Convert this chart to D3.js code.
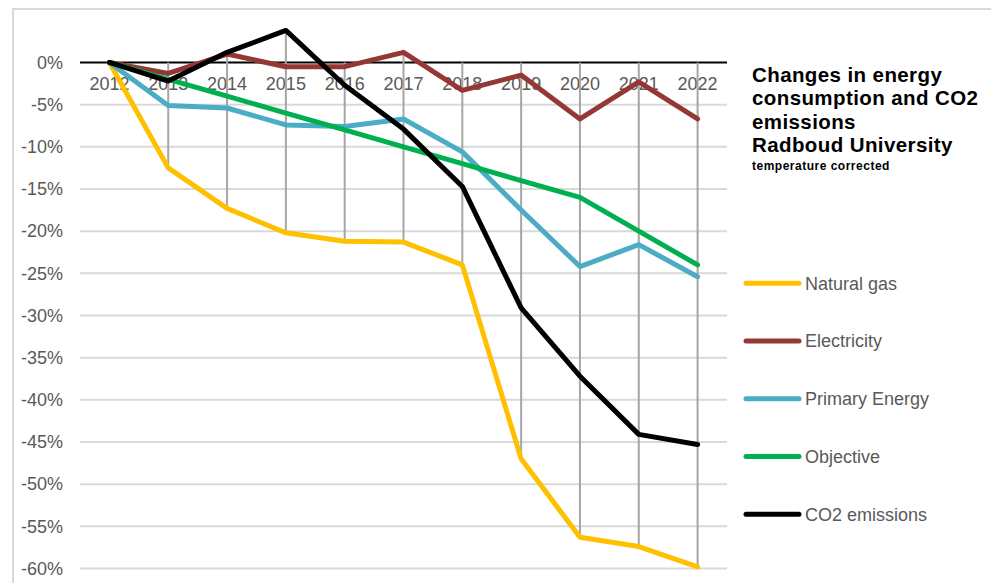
<!DOCTYPE html>
<html>
<head>
<meta charset="utf-8">
<script src="https://cdn.jsdelivr.net/npm/d3@7"></script>
<style>
  html, body { margin: 0; padding: 0; background: #fff; }
  svg { display: block; font-family: "Liberation Sans", Arial, sans-serif; }
</style>
</head>
<body>
<svg id="chart" width="991" height="583"></svg>
<script>
// Years on the category axis
const years = ["2012", "2013", "2014", "2015", "2016", "2017", "2018", "2019", "2020", "2021", "2022"];

// Change relative to 2012, in percent (temperature corrected)
const naturalGas    = [0, -12.5, -17.3, -20.2, -21.2, -21.3, -24.0, -47.0, -56.3, -57.4, -59.8];
const electricity   = [0, -1.3, 1.0, -0.5, -0.5, 1.2, -3.3, -1.5, -6.7, -2.3, -6.7];
const primaryEnergy = [0, -5.1, -5.4, -7.4, -7.6, -6.7, -10.6, -17.5, -24.2, -21.6, -25.4];
const objective     = [0, -2, -4, -6, -8, -10, -12, -14, -16, -20, -24];
const co2Emissions  = [0, -2.2, 1.2, 3.8, -2.7, -7.9, -14.7, -29.1, -37.2, -44.1, -45.3];

// Value axis ticks
const yTicks = [0, -5, -10, -15, -20, -25, -30, -35, -40, -45, -50, -55, -60];

const seriesNames  = ["Natural gas", "Electricity", "Primary Energy", "Objective", "CO2 emissions"];
const seriesValues = [naturalGas, electricity, primaryEnergy, objective, co2Emissions];
const seriesColors = ["#FFC000", "#953735", "#4BACC6", "#00B050", "#000000"];

const titleLines = ["Changes in energy", "consumption and CO2", "emissions", "Radboud University"];
const subtitle = "temperature corrected";

const svg = d3.select("#chart");

// Chart area frame
svg.append("rect")
  .attr("x", 13).attr("y", 9)
  .attr("width", 1000).attr("height", 620)
  .attr("fill", "#fff")
  .attr("stroke", "#d9d9d9").attr("stroke-width", 2);

const plot = { left: 80, right: 727 };

const x = d3.scaleBand().domain(years).range([plot.left, plot.right]);
const y = d3.scaleLinear().domain([-60, 5]).range([568.5, 20.3]);
const cx = d => x(d) + x.bandwidth() / 2;

const pct = v => (v < 0 ? "-" : "") + Math.abs(v) + "%";

// Horizontal gridlines
svg.append("g").selectAll("line")
  .data(yTicks.filter(v => v !== 0))
  .join("line")
  .attr("x1", plot.left).attr("x2", plot.right)
  .attr("y1", d => y(d)).attr("y2", d => y(d))
  .attr("stroke", "#d9d9d9").attr("stroke-width", 2);

// Value axis labels
const yAxis = d3.axisLeft(y).tickValues(yTicks).tickFormat(pct).tickSize(0).tickPadding(0);
const gy = svg.append("g").attr("transform", "translate(63,0)").call(yAxis);
gy.select(".domain").remove();
gy.selectAll("text")
  .attr("fill", "#595959")
  .style("font-size", "18px")
  .style("font-family", "'Liberation Sans', Arial, sans-serif");

// Category axis crossing at 0%
svg.append("line")
  .attr("x1", plot.left).attr("x2", plot.right)
  .attr("y1", y(0)).attr("y2", y(0))
  .attr("stroke", "#000").attr("stroke-width", 2);

const xAxis = d3.axisBottom(x).tickSize(0).tickPadding(0);
const gx = svg.append("g").attr("transform", `translate(0,${y(0) + 12})`).call(xAxis);
gx.select(".domain").remove();
gx.selectAll("text")
  .attr("fill", "#595959")
  .attr("dy", "0.71em")
  .attr("y", 3)
  .style("font-size", "18px")
  .style("font-family", "'Liberation Sans', Arial, sans-serif");

// Drop lines from the category axis to every series point
svg.append("g").selectAll("line")
  .data(years.map((yr, i) => {
    const vals = seriesValues.map(s => s[i]);
    return { yr, hi: Math.max(0, d3.max(vals)), lo: Math.min(0, d3.min(vals)) };
  }).filter(d => d.hi !== d.lo))
  .join("line")
  .attr("x1", d => cx(d.yr)).attr("x2", d => cx(d.yr))
  .attr("y1", d => y(d.hi)).attr("y2", d => y(d.lo))
  .attr("stroke", "#a6a6a6").attr("stroke-width", 2);

// Series lines
const line = d3.line()
  .x((d, i) => cx(years[i]))
  .y(d => y(d));

svg.append("g").selectAll("path")
  .data(seriesValues)
  .join("path")
  .attr("d", d => line(d))
  .attr("fill", "none")
  .attr("stroke", (d, i) => seriesColors[i])
  .attr("stroke-width", 5)
  .attr("stroke-linejoin", "round")
  .attr("stroke-linecap", "round");

// Title block
const title = svg.append("text")
  .attr("x", 752).attr("y", 81.5)
  .attr("fill", "#000")
  .style("font-weight", "bold")
  .style("font-size", "20.5px")
  .style("letter-spacing", "0.4px");
title.selectAll("tspan")
  .data(titleLines)
  .join("tspan")
  .attr("x", 752)
  .attr("dy", (d, i) => i === 0 ? 0 : 23.6)
  .text(d => d);

svg.append("text")
  .attr("x", 752).attr("y", 170)
  .attr("fill", "#000")
  .style("font-weight", "bold")
  .style("font-size", "12px")
  .style("letter-spacing", "0.5px")
  .text(subtitle);

// Legend
const legendY = d3.scalePoint().domain(seriesNames).range([283.3, 514.3]);
const lg = svg.append("g").selectAll("g")
  .data(seriesNames)
  .join("g")
  .attr("transform", d => `translate(0,${legendY(d)})`);
lg.append("line")
  .attr("x1", 746).attr("x2", 799)
  .attr("stroke", (d, i) => seriesColors[i])
  .attr("stroke-width", 5)
  .attr("stroke-linecap", "round");
lg.append("text")
  .attr("x", 805)
  .attr("dy", "0.35em")
  .attr("fill", "#595959")
  .style("font-size", "18px")
  .text(d => d);
</script>
</body>
</html>
